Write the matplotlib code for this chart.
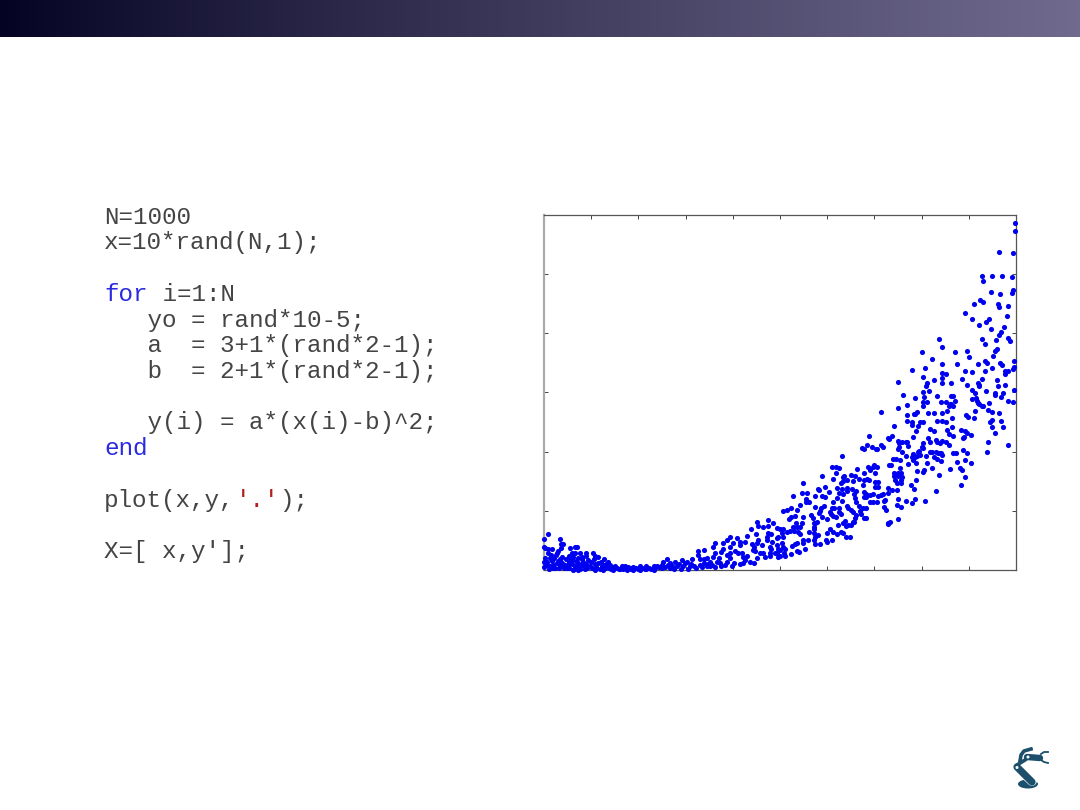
import numpy as np
import matplotlib
matplotlib.use('Agg')
import matplotlib.pyplot as plt
from matplotlib.patches import Ellipse, Circle

# values, (x, y) with x in 0-10 and y in 0-300
pts_low = [(0,26.3),(0.09,30),(0,19.8),(0.02,18.4),(0.09,18),(0.18,17.3),(0.34,26.3),(0.41,22),(0.37,22),(0.37,18.4),(0.30,16.4),(0.27,14),(0.25,12.8),
 (0.55,18.4),(0.66,19.2),(0.69,19.2),(0.09,14),(0.14,12.8),(0.13,10),(0,7),(0.06,7),(0,2.3),(0.13,3),(0.2,4.3),(0.59,14),(0.66,14),(0.76,14.7),(0.89,14.7),
 (1.03,14),(1.08,12.2),(1.15,10.8),(1.27,9),(0.52,12),(0.55,10),(0.62,11.3),(0.80,11.3),(0.90,12),(0.94,8.5),(0.83,7),(0.34,9),(0.27,5.7),(0.37,7),(0.44,4.3),
 (0.52,7),(0.59,5.3),(0.66,3),(0.73,5.7),(1.0,7),(1.08,5.3),(1.15,6),(1.22,3),(1.36,7),(1.40,4.3),(1.33,3),(0.20,1.5),(0.34,3),(0.48,1.5),(0.62,0.3),(0.73,0.3),
 (0.87,0.8),(1.01,1.5),(1.08,0.3),(1.26,0.3),(1.29,1.5),(1.43,0.8),(1.54,1.5),(1.50,3),(1.65,3.6),(1.72,3),(1.82,1.5),(1.89,2.5),(2.03,3.6),(2.17,3.6),(2.32,3.6),
 (2.39,3),(2.53,7),(2.60,8.9),(2.49,4.3),(2.67,5.7),(2.78,7),(2.92,8.5),(3.02,7),(3.13,9),(3.27,15.9),(3.38,16.7),(3.26,12.8),(3.30,9),(3.45,10),(3.38,5.7),(3.52,7),
 (3.59,11.3),(3.62,22.6),(3.59,19.8),(3.62,14),(3.76,15.6),(3.80,22.6),(3.87,25.4),(3.94,27.7),(4.08,27.4),(3.80,17.5),(3.94,19.8),(4.01,23.2),(4.15,24),(4.26,24),
 (4.15,21.2),(4.31,29),(4.38,34.4),(4.49,30.8),(4.52,40.6),(4.54,37.2),(4.65,36.7),(4.75,42),(4.75,37.2),(4.86,40),(4.94,35.3),(4.75,31),(4.80,30.5),(4.73,28.2),
 (4.96,28.2),(4.93,26.8),(4.53,25.4),(4.61,21.5),(4.40,21.8),(4.45,19.8),(4.51,22.6),(4.73,25.4),(4.82,24),(4.93,21.2),(4.79,19.8),(4.80,17.5),(4.96,17.5),(4.89,14.7),
 (4.79,14),(4.65,14.7),(4.58,14),(4.42,17),(4.47,16.1),(3.94,14),(3.87,12.8),(3.94,10),(4.12,14),(4.19,14),(4.22,11.3),(4.26,8.5),(4.15,5.2),(4.22,5.7),(4.36,7),
 (4.51,10),(4.45,6.3),(4.68,11.3),(4.79,11.9),(4.96,11.3),(4.93,14),(3.98,3),(3.87,7),(3.73,5.7),(3.66,7),(3.76,3),(3.62,2.3),(3.52,3),(3.45,3),(3.30,4.3),(3.23,1.5),
 (3.09,3),(2.95,3),(2.81,3),(2.67,1.5),(2.49,1.5),(2.32,0.3),(2.17,0.8),(2.03,0.3),(1.89,0.3),(1.75,0.3),(1.61,0.8),(1.47,0.3)]

# the crowded part of the low end, less exact than the rest
pts_dense = [(0.03,10),(0.07,4),(0.11,1),(0.17,8),(0.22,10),(0.24,2),(0.29,8),(0.31,2),(0.39,11),(0.41,5),(0.43,1.5),(0.47,9),(0.50,4),(0.54,2),(0.57,7.5),(0.60,9.5),
 (0.64,1.2),(0.68,8),(0.70,3),(0.72,10),(0.77,1),(0.79,4.5),(0.81,9),(0.85,3),(0.89,5),(0.92,1.5),(0.97,3.5),(1.05,9),(1.11,2.5),(1.18,1),(1.21,7),(1.24,4.5),(1.31,5),
 (1.38,1.5),(1.46,2.5),(1.58,0.5),(1.68,1.2),(1.78,2.2),(1.85,0.8),(1.95,1.5),(1.99,0.5),(2.08,1.5),(2.13,0.5),(2.22,2),(2.27,1),(2.36,1.5),(2.44,2.8),(2.57,2.2),(2.62,4),
 (2.72,3.6),(2.75,1),(2.85,5),(2.90,1.2),(2.98,5.5),(3.05,1),(3.12,5),(3.18,3),(3.34,2.5),(3.40,9),(3.48,5),(3.56,4.5),(3.70,10),(3.84,4),(4.03,6),(4.30,12),(4.05,16)]

pts_mid = [(5,34.4),(5.04,31),(5.07,27.7),(5.04,22.6),(5.07,19.8),(5,17),(5.11,17.5),(5.08,14),(5,12.2),(5.11,12),(5.06,34.4),(5.14,32.4),(5.21,32.7),(5.30,33.3),
 (5.35,36.7),(5.39,32.4),(5.42,30.5),(5.62,32.4),(5.71,31),(5.74,28.2),(5.81,29.4),(5.73,24.9),(5.74,21.8),(5.60,25.4),(5.49,25.4),(5.49,22.6),(5.37,22.6),(5.32,22),
 (5.25,20.6),(5.37,16),(5.23,13.6),(5.41,15.3),(5.54,17.5),(5.85,22),(5.97,25.4),(5.99,23.7),(6.10,24.9),(5.71,40),(5.79,40.6),(5.75,40),(5.72,36.7),(5.71,35),(5.46,40),
 (5.33,40),(5.28,36),(5.42,36),(6.06,35),(5.99,31),(6.12,32.4),(6.22,38),(6.30,32.4),(6.21,30),(6.34,31),(6.40,28),(6.48,28),(6.33,40),(6.38,41.4),(6.45,38),(6.50,38),
 (6.57,40.3),(6.39,37.2),(6.77,44),(6.82,44),(7.51,43),(7.34,40.3),(7.28,40),(7.28,38.6),(6.06,49),(6.09,47.4),(6.13,45.7),(6.0,43),(6.18,45),(5.65,46.5),(5.69,44),(5.48,45),
 (5.31,45.7),(5.23,44.6),(5.20,43),(5.07,50),(5.14,50.7),(5.23,52),(5.37,51),(5.87,52),(5.85,50),(5.82,48),(5.88,45),(5.74,53),(6.15,52),(6.26,52),(6.24,49.3),(6.29,47.6),
 (6.82,52),(6.69,50),(6.72,47),(6.41,54),(6.45,52.4),(6.50,50.7),(6.55,48.8),(6.60,46),(6.58,43.7),(6.54,40.3),(7.49,60),(7.47,55.2),(7.56,53),(7.68,58),(7.79,56.4),(7.86,60),
 (8.07,58),(7.22,59),(7.20,58),(7.21,53),(7.24,51),(6.91,57.2),(6.98,57.2),(7.05,57.8),(6.62,57.2),(6.68,54.4),(6.76,51.9),(6.13,57),(5.93,54),(6.10,52.4),(5.28,62.3),(5.74,62.3),
 (5.88,62.3),(5.95,61.4),(5.55,59.7),(5.62,57),(5.55,57),(5.42,55.2),(6.24,65),(6.33,64),(6.21,60.6),(6.31,58),(6.59,61),(6.57,64),(6.62,67),(6.77,66),(7.29,69.3),(7.37,67.6),
 (7.47,67.6),(7.28,65),(7.19,64),(7.14,63),(7.08,62.3),(6.98,64),(6.91,63.4),(6.82,64),(6.82,61.4),(6.78,61.4),(5.80,68.4),(5.83,67.6),(6.04,66),(5.47,65),(5.58,65),(5.95,70.4),
 (6.20,69.3),(6.43,69.3),(6.52,68.2),(6.43,66.8),(6.31,68.4),(6.29,73.2),(6.34,75),(6.41,75.8),(6.55,75),(7.01,74),(7.08,74),(6.75,72),(7.01,70.4),(7.08,70.4),(6.85,76.6),(6.89,75.8),
 (5.88,79.4),(6.13,76.6),(5.49,73.8),(7.88,75.8),(7.77,72),(7.84,68.7),(8.30,66.8),(8.37,80),(8.93,78.3),(8.83,72),(7.42,81.7),(7.49,81.7),(7.56,81.7),(7.42,79),(7.49,79),(7.58,78.3),
 (7.44,76),(7.56,76),(7.47,73.8),(7.56,73.2),(8.23,86.2),(8.60,85.3),(8.81,86.2),(8.85,84.5),(8.06,84.2),(8.04,82.5),(7.90,83.6),(6.36,79.4),(6.33,78.3),(6.50,80.5),(6.58,79.4),
 (6.68,77.2),(6.77,76),(6.11,87.3),(6.18,87.3),(6.24,86.2),(6.18,81.7),(6.64,85.3),(6.78,81.7),(7.01,81.7),(6.99,89),(7.06,87.3),(6.96,86.7),(6.87,86.7),(6.90,84.5),(7.54,86.2),(7.31,88.4),(7.36,88.7)]

pts_high = [(8.74,91.5),(8.93,93.2),(9.04,90.7),(8.11,90.7),(7.88,90.7),(7.72,89.6),(7.81,93.2),(7.40,94),(7.46,94),(7.54,93.2),(7.97,97),(8.09,96.3),(8.18,100),(8.23,100),(8.30,100),
 (8.35,99),(8.41,98.6),(8.44,97),(8.26,95.7),(8.33,93.8),(8.41,92.4),(8.37,98.6),(7.68,96.3),(6.31,96),(7.81,98),(7.86,95.7),(7.90,96.3),(7.79,95.7),(8.67,98.6),(8.72,98.6),(8.88,101),(8.97,98.8),
 (9.41,108),(9.82,105.6),(9.39,100),(8.0,103.6),(8.02,102.8),(7.95,100.8),(7.93,100),(7.58,99.7),(7.5,102.5),(7.52,103.6),(7.03,102),(7.06,102),(7.13,105.6),(7.19,104),(6.94,104),(6.73,102.8),(6.79,102),
 (6.85,105.6),(8.39,107),(8.33,108),(8.43,109),(8.51,108.4),(8.57,105.6),(7.58,108),(7.66,108.4),(7.70,108),(7.72,105),(7.5,109),(7.52,107),(8.02,107),(8.30,110),(8.18,108),(8.14,111),(7.81,112.6),
 (7.29,111.5),(7.31,110.6),(6.89,113.5),(7.37,113.5),(8.67,113.5),(9.55,115.4),(8.90,112.6),(8.88,111.5),(8.93,117),(8.97,116),(9.04,114),(8.83,118),(8.53,118),(8.57,115),(7.88,117),(8.18,119),(8.26,117),
 (9.50,121),(9.73,120.5),(8.64,120.5),(7.42,121.6),(7.93,121.6),(8.44,126),(8.51,124.5),(8.33,126),(7.97,125),(8.04,125),(7.79,125),(7.79,122.5),(7.70,126),(9.68,126),(9.50,126.7),(9.45,125),(9.10,128),
 (8.94,130.6),(8.99,129),(8.64,128),(7.70,130.6),(8.14,132.6),(8.26,132.6),(8.44,132.6),(8.53,134),(7.86,132),(7.90,133),(7.83,131.5),(7.15,133),(9.13,134),(9.64,132.6),(9.50,133.5),(9.40,135),(9.31,138),
 (9.43,141),(9.22,140),(9.27,138),(9.20,141),(9.17,142.5),(7.51,137),(8.04,138),(7.70,139),(8.62,140),(8.60,140),(8.67,138),(8.57,138),(8.71,143),(8.41,142),(8.51,142),(8.02,142),(8.11,142),(9.94,142),
 (9.84,143),(9.68,146),(9.55,148),(9.15,145),(9.06,144),(8.06,146),(7.86,145),(8.66,147),(8.62,147),(8.32,147),(7.61,148),(9.73,149),(9.55,149),(9.13,149),(9.36,151),(8.04,150),(8.16,151),(9.96,152),(9.06,152),
 (8.09,155),(9.77,156),(9.61,155.5),(9.22,155),(9.22,156),(8.97,156),(9.19,158),(8.62,158),(8.44,158),(8.11,158),(7.51,159),(9.59,160),(9.27,161),(8.86,161),(8.26,160),(8.44,162),(8.02,163),(8.51,165),(8.44,166),
 (9.77,165),(9.84,168),(9.77,168),(9.34,168),(9.06,167),(8.92,168),(8.07,170.5),(7.79,169),(9.96,171),(9.94,170),(9.50,170.5),(9.19,174),(8.74,174),(8.44,174),(9.96,176),(9.70,173),(9.66,175),(9.39,175),(9.34,176),
 (8.21,178),(9.01,179.5),(9.52,181),(9.55,184.5),(9.59,186.5),(8.97,185),(8.71,184),(8.00,184),(8.44,188),(8.37,195),(9.34,191),(9.27,195),(9.57,194),(9.87,193),(9.82,196),(9.64,198),(9.68,201),(9.47,203),(9.75,205),
 (9.22,207),(9.80,214),(9.36,209),(9.43,212),(9.06,212),(8.92,217),(9.84,222.5),(9.64,222),(9.61,224.5),(9.10,224.5),(9.31,226),(9.24,228),(9.94,236),(9.92,234),(9.66,233),(9.47,235),(9.31,244),(9.92,247),(9.70,248),
 (9.49,248),(9.27,248),(9.94,267.5),(9.63,268),(9.98,286),(9.98,293)]

x_ticks = [0, 1, 2, 3, 4, 5, 6, 7, 8, 9, 10]
y_ticks = [0, 50, 100, 150, 200, 250, 300]

code_lines = ["N=1000", "x=10*rand(N,1);", "", "for i=1:N", "   yo = rand*10-5;", "   a  = 3+1*(rand*2-1);", "   b  = 2+1*(rand*2-1);",
              "", "   y(i) = a*(x(i)-b)^2;", "end", "", "plot(x,y,'.');", "", "X=[ x,y'];"]

W, H = 1080, 810
fig = plt.figure(figsize=(W / 100, H / 100), dpi=100, facecolor='white')

# slide in pixel coordinates
bg = fig.add_axes([0, 0, 1, 1])

# title band
c0 = np.array([5, 3, 35]) / 255
c1 = np.array([112, 107, 142]) / 255
grad = np.linspace(0, 1, 256)[None, :, None] ** 0.9 * (c1 - c0) + c0
bg.imshow(grad, extent=[0, W, 37, 0], aspect='auto')
bg.set_xlim(0, W)
bg.set_ylim(H, 0)
bg.axis('off')

# code block
char_w = 14.6
x0 = 104
line_h = 25.75
y0 = 217
fs = 17.5
code_col = '#444444'
for i, line in enumerate(code_lines):
    if not line:
        continue
    y = y0 + i * line_h
    if line.startswith('for') or line == 'end':
        bg.text(x0, y, line[:3], family='Liberation Mono', fontsize=fs, color='#2a2ae0', va='center', ha='left')
        bg.text(x0 + 3 * char_w, y, line[3:], family='Liberation Mono', fontsize=fs, color=code_col, va='center', ha='left')
    elif "'.'" in line:
        k = line.index("'.'")
        bg.text(x0, y, line[:k], family='Liberation Mono', fontsize=fs, color=code_col, va='center', ha='left')
        bg.text(x0 + k * char_w, y, "'.'", family='Liberation Mono', fontsize=fs, color='#b02020', va='center', ha='left')
        bg.text(x0 + (k + 3) * char_w, y, line[k + 3:], family='Liberation Mono', fontsize=fs, color=code_col, va='center', ha='left')
    else:
        bg.text(x0, y, line, family='Liberation Mono', fontsize=fs, color=code_col, va='center', ha='left')

# robot arm logo, bottom right
logo = '#1b4f6b'
bg.add_patch(Ellipse((1028, 784), 20, 9, color=logo, lw=0))
bg.plot([1017, 1032], [767, 781], color='white', lw=7, solid_capstyle='round')
bg.plot([1017, 1032], [767, 782], color=logo, lw=5.2, solid_capstyle='round')
bg.plot([1017, 1025], [765, 760], color=logo, lw=2.6)
bg.plot([1027, 1040], [757, 758], color=logo, lw=4.6, solid_capstyle='round')
bg.plot([1020, 1021, 1024, 1031], [761, 755, 751, 749], color=logo, lw=2.6)
bg.plot([1041, 1044, 1048], [754, 752, 752], color=logo, lw=1.3)
bg.plot([1041, 1044, 1048], [760, 762, 763], color=logo, lw=1.3)
bg.add_patch(Circle((1028, 757), 1.5, color='white', lw=0, zorder=5))
bg.add_patch(Circle((1017, 767.5), 1.5, color='white', lw=0, zorder=5))

# scatter axes
ax = fig.add_axes([544 / W, 1 - 570 / H, 472 / W, 355.5 / H])
for pts in (pts_low, pts_dense, pts_mid, pts_high):
    xs = [p[0] for p in pts]
    ys = [p[1] for p in pts]
    ax.plot(xs, ys, 'o', color='#0000f0', markersize=3.7, markeredgewidth=0, clip_on=False, zorder=5)
ax.set_xlim(0, 10)
ax.set_ylim(0, 300)
ax.set_xticks(x_ticks)
ax.set_yticks(y_ticks)
ax.tick_params(direction='in', length=3, width=0.7, color='#444444', top=True, right=True,
               labelbottom=False, labelleft=False)
for side in ('top', 'bottom', 'right'):
    ax.spines[side].set_color('#555555')
    ax.spines[side].set_linewidth(0.9)
ax.spines['left'].set_color('#aaaaaa')
ax.spines['left'].set_linewidth(1.6)

fig.savefig('out.png', dpi=100)
